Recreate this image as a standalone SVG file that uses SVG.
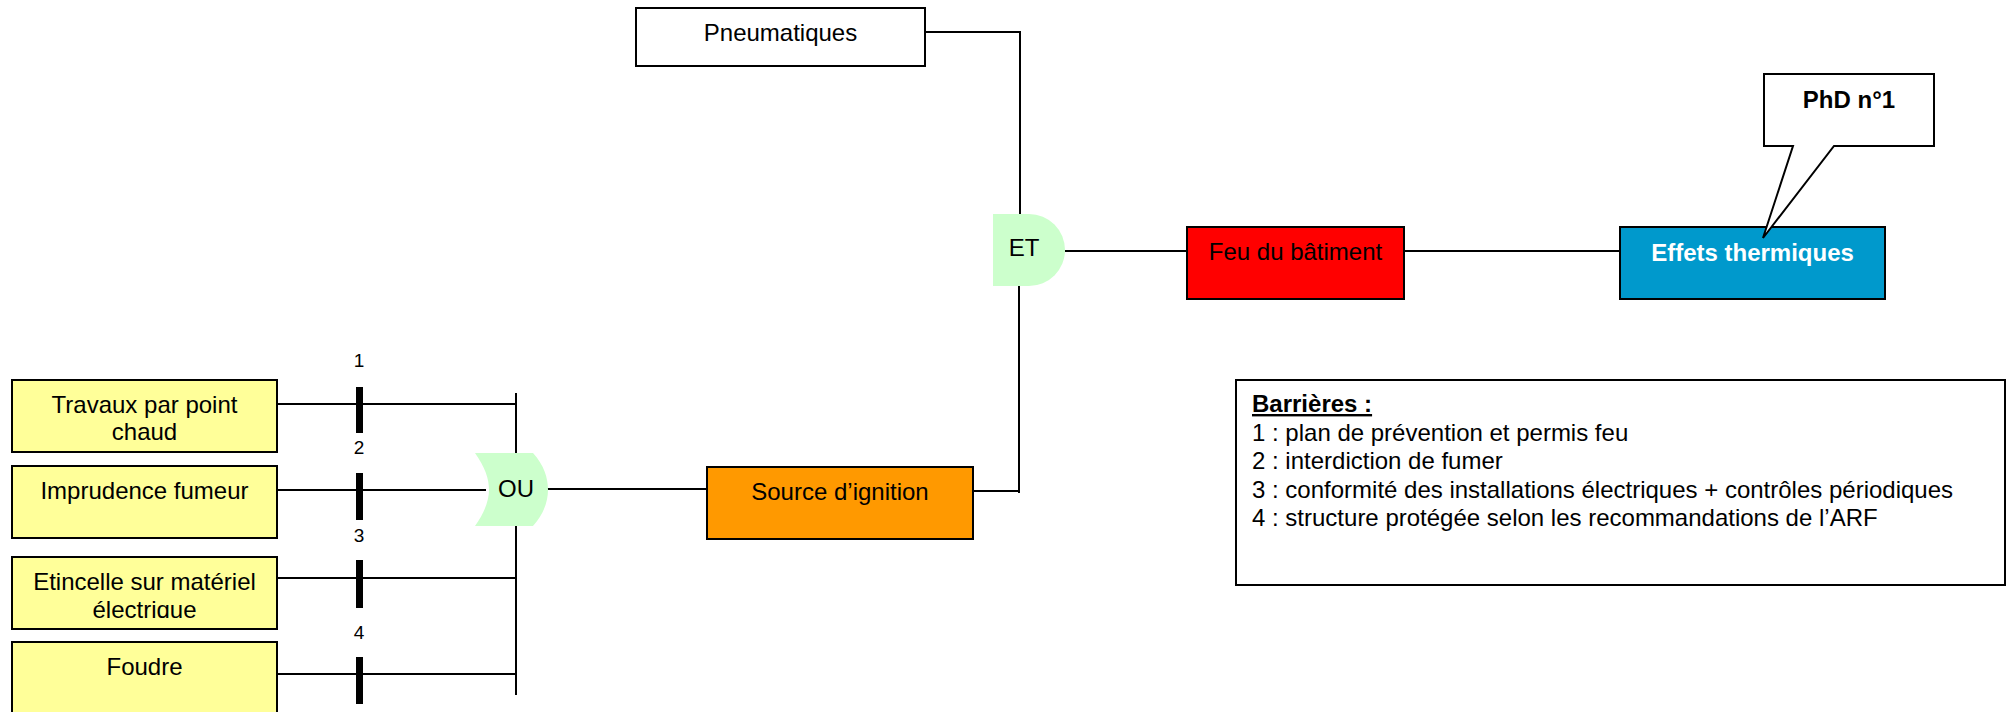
<svg xmlns="http://www.w3.org/2000/svg" width="2013" height="712" viewBox="0 0 2013 712">
<style>
text{font-family:"Liberation Sans",Arial,sans-serif;font-size:24px;fill:#000}
.c{text-anchor:middle}
.box{stroke:#000;stroke-width:2}
.y{fill:#FFFF99}
.gate{fill:#CCFFCC;stroke:none}
.ln{fill:none;stroke:#000;stroke-width:2}
.bar{fill:#000}
.num{font-size:19px}
.b{font-weight:bold}
</style>
<defs>
<clipPath id="clip3"><rect x="12" y="557" width="265" height="61"/></clipPath>
</defs>
<rect width="2013" height="712" fill="#fff"/>

<g id="connectors">
<polyline class="ln" points="277,404 516,404"/>
<polyline class="ln" points="277,490 486,490"/>
<polyline class="ln" points="277,578 516,578"/>
<polyline class="ln" points="277,674 516,674"/>
<polyline class="ln" points="516,393 516,695"/>
<polyline class="ln" points="547,489 707,489"/>
<polyline class="ln" points="973,491 1019,491 1019,493"/>
<polyline class="ln" points="1019,493 1019,286"/>
<polyline class="ln" points="925,32 1020,32 1020,214"/>
<polyline class="ln" points="1065,251 1187,251"/>
<polyline class="ln" points="1404,251 1620,251"/>
</g>

<g id="barriers">
<rect class="bar" x="356" y="387" width="7" height="46"/>
<rect class="bar" x="356" y="473" width="7" height="47"/>
<rect class="bar" x="356" y="560" width="7" height="48"/>
<rect class="bar" x="356" y="657" width="7" height="47"/>
<text class="c num" x="359" y="367">1</text>
<text class="c num" x="359" y="454">2</text>
<text class="c num" x="359" y="542">3</text>
<text class="c num" x="359" y="639">4</text>
</g>

<g id="travaux">
<rect class="box y" x="12" y="380" width="265" height="72"/>
<text class="c" x="144.5" y="413">Travaux par point</text>
<text class="c" x="144.5" y="440">chaud</text>
</g>
<g id="imprudence">
<rect class="box y" x="12" y="466" width="265" height="72"/>
<text class="c" x="144.5" y="499">Imprudence fumeur</text>
</g>
<g id="etincelle">
<rect class="box y" x="12" y="557" width="265" height="72"/>
<g clip-path="url(#clip3)">
<text class="c" x="144.5" y="590">Etincelle sur matériel</text>
<text class="c" x="144.5" y="617.5">électrique</text>
</g>
</g>
<g id="foudre">
<rect class="box y" x="12" y="642" width="265" height="90"/>
<text class="c" x="144.5" y="675">Foudre</text>
</g>

<g id="ou">
<path class="gate" d="M475,453 H533 C544,465 548,478 548,489.5 C548,501 544,514 533,526 H475 C485,512 489,500 489,489.5 C489,479 485,467 475,453 Z"/>
<text class="c" x="516" y="497">OU</text>
</g>

<g id="source">
<rect class="box" fill="#FF9900" x="707" y="467" width="266" height="72"/>
<text class="c" x="840" y="500">Source d’ignition</text>
</g>

<g id="pneumatiques">
<rect class="box" fill="#fff" x="636" y="8" width="289" height="58"/>
<text class="c" x="780.5" y="41">Pneumatiques</text>
</g>

<g id="et">
<path class="gate" d="M993,214 H1029 A36,36 0 0 1 1029,286 H993 Z"/>
<text class="c" x="1024" y="256">ET</text>
</g>

<g id="feu">
<rect class="box" fill="#FF0000" x="1187" y="227" width="217" height="72"/>
<text class="c" x="1295.5" y="260">Feu du bâtiment</text>
</g>

<g id="effets">
<rect class="box" fill="#0099CC" x="1620" y="227" width="265" height="72"/>
<text class="c b" x="1752.5" y="261" style="fill:#fff">Effets thermiques</text>
</g>

<g id="phd">
<path class="box" fill="#fff" d="M1764,74 H1934 V146 H1834 L1763,238 L1793,146 H1764 Z"/>
<text class="c b" x="1849" y="108">PhD n°1</text>
</g>

<g id="barrieres">
<rect class="box" fill="#fff" x="1236" y="380" width="769" height="205"/>
<text class="b" x="1252" y="412" text-decoration="underline">Barrières :</text>
<text x="1252" y="441">1 : plan de prévention et permis feu</text>
<text x="1252" y="469">2 : interdiction de fumer</text>
<text x="1252" y="498">3 : conformité des installations électriques + contrôles périodiques</text>
<text x="1252" y="526">4 : structure protégée selon les recommandations de l’ARF</text>
</g>
</svg>
